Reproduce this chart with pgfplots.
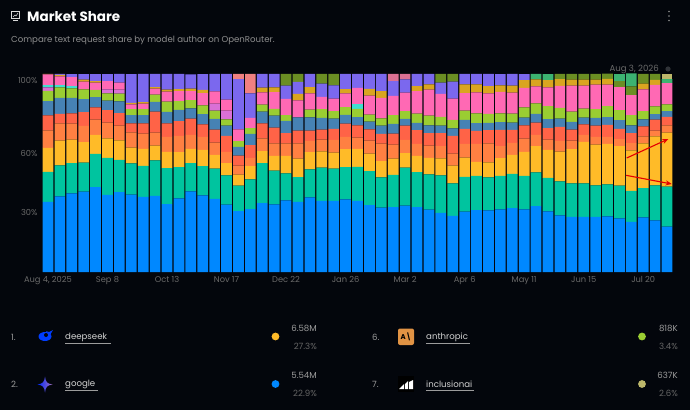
\documentclass[border=0pt]{standalone}
\usepackage{pgfplots}
\usepackage{pgfplotstable}
\usepackage{fontspec}
\pgfplotsset{compat=1.18}
\usetikzlibrary{arrows.meta}
\setmainfont{Poppins}

\definecolor{pagebg}{HTML}{03060C}
\definecolor{cGoogle}{HTML}{0088FF}
\definecolor{cTeal}{HTML}{00C49F}
\definecolor{cDeep}{HTML}{FFBB28}
\definecolor{cOrange}{HTML}{FF8042}
\definecolor{cRed}{HTML}{FF6347}
\definecolor{cSteel}{HTML}{4682B4}
\definecolor{cLime}{HTML}{9ACD32}
\definecolor{cOrchid}{HTML}{DA70D6}
\definecolor{cCyan}{HTML}{40E0D0}
\definecolor{cPink}{HTML}{FF69B4}
\definecolor{cGold}{HTML}{DAA520}
\definecolor{cPurple}{HTML}{7B68EE}
\definecolor{cOlive}{HTML}{6B8E23}
\definecolor{cSea}{HTML}{3CB371}
\definecolor{cMauve}{HTML}{DB7093}
\definecolor{cSalmon}{HTML}{F08080}
\definecolor{cKhaki}{HTML}{BDB76B}
\definecolor{tickgray}{HTML}{6A6A6A}
\definecolor{subgray}{HTML}{8E8E8E}
\definecolor{namegray}{HTML}{D2D2D2}
\definecolor{numgray}{HTML}{9C9C9C}
\definecolor{pctgray}{HTML}{666666}

% weekly share in percent, one row per week
\pgfplotstableread{
i  b    t    y    o    r    s   l   oc  cy  p    g   pu   ol  se  mv  sa   kh
0  35.4 15.2 12.1 8.8  7.6  7.2 5.2 1.7 1.2 5.4  0.3 0    0   0   0   0    0
1  38.2 15.7 12.5 8.6  4.9  8.1 5.2 0   1.2 4.4  0.8 0.5  0   0   0   0    0
2  39.7 15.3 11.8 8.1  5.2  7.9 4.7 0   1.2 4.5  0   1.5  0   0   0   0    0
3  40.6 14.6 10.4 8.2  6.9  6.6 4.9 0   0   4.0  1.0 2.7  0   0   0   0    0
4  42.9 16.8 9.6  7.7  6.2  5.1 3.7 0   0   3.7  0.7 3.5  0   0   0   0    0
5  38.9 18.7 9.9  7.9  6.4  4.7 3.7 2.0 0   4.2  0   3.5  0   0   0   0    0
6  40.4 16.2 9.9  7.4  6.4  5.9 3.9 2.0 0   3.5  0   4.4  0   0   0   0    0
7  39.1 15.8 7.9  7.7  4.5  4.2 3.0 0   0   2.5  0.7 14.5 0   0   0   0    0
8  37.9 15.7 8.6  7.7  5.1  4.2 3.0 0   0   2.9  0.7 14.3 0   0   0   0    0
9  38.4 18.0 7.4  6.6  10.6 4.9 3.7 0   0   3.0  0.8 6.6  0   0   0   0    0
10 34.3 18.2 8.2  7.6  6.7  5.9 5.1 0   0   5.1  1.0 7.9  0   0   0   0    0
11 37.2 15.8 7.6  8.2  7.4  5.7 4.4 0   0   5.1  1.0 7.6  0   0   0   0    0
12 40.7 14.3 7.2  7.1  8.1  5.2 4.2 0   0   4.5  1.3 7.2  0   0   0   0    0
13 38.7 14.8 8.2  6.6  6.2  5.2 4.4 0   0   6.2  1.7 7.9  0   0   0   0    0
14 36.9 15.3 6.9  6.2  6.6  5.4 4.2 3.5 0   6.2  0   8.8  0   0   0   0    0
15 34.0 14.8 6.2  5.7  8.1  5.1 3.2 4.4 0   5.6  0   13.0 0   0   0   0    0
16 30.8 12.8 5.6  4.5  5.1  4.4 2.9 0   0   5.9  0   25.4 0   0   0   2.7  0
17 31.8 15.0 6.7  4.2  6.4  5.6 3.0 0   0   5.2  0   12.3 0   0   0   9.8  0
18 34.8 20.2 6.1  6.4  7.6  5.9 3.5 0   0   6.2  2.4 6.9  0   0   0   0    0
19 34.2 17.0 7.4  6.4  7.9  6.1 3.4 0   0   8.4  2.4 6.9  0   0   0   0    0
20 36.2 13.6 8.8  6.4  5.2  6.1 2.9 0   0   8.2  0   6.7  5.9 0   0   0    0
21 35.4 12.5 9.4  7.7  6.4  6.7 0   0   0   8.6  3.2 6.1  4.0 0   0   0    0
22 37.7 14.1 8.8  5.6  5.2  6.7 3.9 0   0   8.2  3.2 6.6  0   0   0   0    0
23 35.9 16.8 8.2  5.9  5.1  5.9 4.5 0   0   6.1  0   6.7  4.9 0   0   0    0
24 35.9 16.3 8.1  6.4  5.6  5.1 3.9 0   0   6.2  0   6.7  5.9 0   0   0    0
25 36.7 16.3 9.1  6.1  6.7  4.4 4.0 0   0   6.9  2.2 7.6  0   0   0   0    0
26 35.9 17.2 9.1  5.7  6.1  4.2 4.2 0   2.4 8.2  0   7.1  0   0   0   0    0
27 33.8 17.2 8.8  6.6  5.6  4.0 3.5 0   0   9.6  3.4 7.6  0   0   0   0    0
28 32.5 15.3 8.2  8.8  4.9  4.2 3.7 0   0   10.3 3.4 8.8  0   0   0   0    0
29 32.8 16.2 8.2  7.1  5.6  4.9 4.4 0   0   9.8  0   7.4  0   0   3.7 0    0
30 33.5 19.2 7.4  6.6  7.2  3.4 4.0 0   0   9.3  0   6.7  0   0   2.7 0    0
31 32.8 17.7 8.1  6.1  6.9  3.7 4.7 0   0   11.4 2.5 6.1  0   0   0   0    0
32 31.5 17.8 8.4  6.1  6.4  3.9 4.9 0   0   13.1 2.7 5.2  0   0   0   0    0
33 29.8 19.0 8.6  6.2  6.6  3.7 4.5 0   0   11.6 0   5.6  4.4 0   0   0    0
34 28.3 16.5 8.9  6.1  8.9  3.9 4.2 0   0   10.8 0   8.6  3.9 0   0   0    0
35 30.5 17.5 9.8  6.9  7.6  4.5 4.7 0   0   8.8  4.5 5.2  0   0   0   0    0
36 31.3 17.2 7.1  9.1  6.6  3.9 4.9 0   0   10.6 4.0 5.4  0   0   0   0    0
37 31.1 16.7 7.6  9.6  6.6  3.7 4.5 0   0   10.4 3.7 6.1  0   0   0   0    0
38 31.6 17.0 8.9  6.1  8.2  3.9 4.4 0   0   10.9 3.2 5.7  0   0   0   0    0
39 32.3 17.2 9.6  6.1  6.6  3.7 4.5 0   0   10.6 3.5 5.9  0   0   0   0    0
40 31.6 17.0 12.1 6.7  6.7  3.9 5.2 0   0   9.8  3.9 3.0  0   0   0   0    0
41 33.3 17.0 13.3 5.6  6.2  4.4 5.4 0   0   8.6  3.5 0    0   2.7 0   0    0
42 30.6 17.0 14.1 5.1  5.9  4.5 6.6 0   0   9.4  3.7 0    0   3.0 0   0    0
43 28.6 17.2 15.0 5.4  7.1  4.2 5.4 0   0   11.1 3.4 0    2.7 0   0   0    0
44 27.8 17.0 17.3 4.2  5.6  3.9 5.2 0   0   13.1 3.0 0    2.9 0   0   0    0
45 27.8 17.0 20.9 3.5  5.4  3.4 4.5 0   0   11.6 3.0 0    2.9 0   0   0    0
46 27.8 16.0 20.5 3.9  5.7  3.9 4.5 0   0   12.3 2.5 0    2.9 0   0   0    0
47 28.1 16.2 20.4 3.5  6.1  3.9 5.6 0   0   10.8 2.9 0    2.7 0   0   0    0
48 27.1 16.5 20.0 3.5  5.2  4.4 5.1 0   0   11.6 0   0    3.0 3.5 0   0    0
49 25.3 15.7 20.4 3.7  5.1  3.9 5.1 0   0   10.1 0   0    4.4 6.6 0   0    0
50 27.6 14.8 22.6 3.5  5.1  3.5 4.2 0   0   10.9 2.9 0    4.9 0   0   0    0
51 26.1 17.7 24.7 2.9  5.6  2.7 4.0 0   0   10.8 2.5 0    3.0 0   0   0    0
52 22.9 20.2 27.3 3.7  4.2  2.9 3.4 0   0   10.8 0   0    0   2.0 0   0    2.6
}\share

\newcommand{\seg}[2]{\addplot[fill=#2,draw=none] table[x=i,y=#1] {\share};}

\begin{document}
\begin{tikzpicture}[x=1pt,y=1pt]
\fill[pagebg] (0,0) rectangle (690,410);

\begin{axis}[
  at={(42pt,138pt)},
  anchor=south west,
  scale only axis,
  width=631pt,
  height=198pt,
  ybar stacked,
  bar width=10.7pt,
  xmin=-0.5, xmax=52.5,
  ymin=0, ymax=100,
  axis line style={draw=none},
  major tick length=0pt,
  xtick={0,5,10,15,20,25,30,35,40,45,50},
  xticklabels={{Aug 4, 2025},Sep 8,Oct 13,Nov 17,Dec 22,Jan 26,Mar 2,Apr 6,May 11,Jun 15,Jul 20},
  ytick={30,60,96.5},
  yticklabels={30\%,60\%,100\%},
  tick label style={font=\fontsize{8.3}{10}\selectfont,text=tickgray},
  xticklabel style={yshift=-1pt},
  yticklabel style={xshift=-1pt},
]
\seg{b}{cGoogle}
\seg{t}{cTeal}
\seg{y}{cDeep}
\seg{o}{cOrange}
\seg{r}{cRed}
\seg{s}{cSteel}
\seg{l}{cLime}
\seg{oc}{cOrchid}
\seg{cy}{cCyan}
\seg{p}{cPink}
\seg{g}{cGold}
\seg{pu}{cPurple}
\seg{ol}{cOlive}
\seg{se}{cSea}
\seg{mv}{cMauve}
\seg{sa}{cSalmon}
\seg{kh}{cKhaki}
\end{axis}

% header
\draw[white!85!black,line width=0.7pt] (11.5,398.5) rectangle (19.5,391.5);
\draw[white!85!black,line width=0.5pt] (13,393) -- (15,395) -- (16,394) -- (18,397);
\draw[white!85!black,line width=0.7pt] (13,390) -- (18,390);
\node[anchor=west,inner sep=0,text=white,font=\fontsize{13.5}{16}\selectfont\bfseries] at (27,393) {Market Share};
\node[anchor=west,inner sep=0,text=subgray,font=\fontsize{8.6}{11}\selectfont] at (11,370) {Compare text request share by model author on OpenRouter.};
\foreach \yy in {398.5,394,389.5} \fill[subgray] (669,\yy) circle (0.9);

% date marker
\node[anchor=east,inner sep=0,text=tickgray,font=\fontsize{8.6}{11}\selectfont] at (659,341) {Aug 3, 2026};
\fill[white!18!pagebg] (668,341) circle (2.6);

% annotation arrows
\draw[-{Stealth[length=6pt,width=5pt]},red!90!black,line width=1.1pt] (626.7,252) -- (668.3,271);
\draw[-{Stealth[length=6pt,width=5pt]},red!90!black,line width=1.1pt] (626,234.7) -- (671.7,226);

% ranking, left column
\node[anchor=west,inner sep=0,text=numgray,font=\fontsize{8.6}{11}\selectfont] at (11,73) {1.};
\node[anchor=west,inner sep=0,text=numgray,font=\fontsize{8.6}{11}\selectfont] at (11,25.5) {2.};
\fill[blue!55!cGoogle] (45,73.5) ellipse (6.5 and 4.5);
\fill[blue!55!cGoogle] (50,75) -- (53,80) -- (49,78) -- (46,79) -- cycle;
\fill[pagebg] (46,75) circle (2);
\shade[left color=blue!70!cGoogle,right color=cPurple!70!cOrange] (45,33.5) .. controls (45.7,28) and (47,26.3) .. (52.5,25.5) .. controls (47,24.7) and (45.7,23) .. (45,17.5) .. controls (44.3,23) and (43,24.7) .. (37.5,25.5) .. controls (43,26.3) and (44.3,28) .. (45,33.5) -- cycle;
\node[anchor=west,inner sep=0,text=namegray,font=\fontsize{8.6}{11}\selectfont] at (65,73) {deepseek};
\draw[numgray,line width=0.4pt] (65,67.3) -- (111,67.3);
\node[anchor=west,inner sep=0,text=namegray,font=\fontsize{8.6}{11}\selectfont] at (65,25.5) {google};
\draw[numgray,line width=0.4pt] (65,20) -- (98,20);
\fill[cDeep] (275.5,73.5) circle (3.9);
\fill[cGoogle] (275.5,26) circle (3.9);
\node[anchor=east,inner sep=0,text=numgray,font=\fontsize{8.6}{11}\selectfont] at (317,82) {6.58M};
\node[anchor=east,inner sep=0,text=pctgray,font=\fontsize{8.6}{11}\selectfont] at (317,64) {27.3\%};
\node[anchor=east,inner sep=0,text=numgray,font=\fontsize{8.6}{11}\selectfont] at (317,35) {5.54M};
\node[anchor=east,inner sep=0,text=pctgray,font=\fontsize{8.6}{11}\selectfont] at (317,17) {22.9\%};

% ranking, right column
\node[anchor=west,inner sep=0,text=numgray,font=\fontsize{8.6}{11}\selectfont] at (372,73) {6.};
\node[anchor=west,inner sep=0,text=numgray,font=\fontsize{8.6}{11}\selectfont] at (372,25.5) {7.};
\fill[rounded corners=2pt,fill=orange!45!brown!85!white] (398,65) rectangle (414,81.5);
\node[inner sep=0,text=black,font=\fontsize{7}{8}\selectfont\bfseries] at (406,73) {A\textbackslash};
\fill[black] (398,18) rectangle (414,34);
\fill[white] (399,21) -- (404,21) -- (404,26) -- cycle;
\fill[white] (405,21) -- (408,21) -- (408,29) -- (405,26) -- cycle;
\fill[white] (409,21) -- (413,21) -- (413,30) -- (409,28) -- cycle;
\node[anchor=west,inner sep=0,text=namegray,font=\fontsize{8.6}{11}\selectfont] at (426,73) {anthropic};
\draw[numgray,line width=0.4pt] (426,67.3) -- (470,67.3);
\node[anchor=west,inner sep=0,text=namegray,font=\fontsize{8.6}{11}\selectfont] at (426,25.5) {inclusionai};
\draw[numgray,line width=0.4pt] (426,20) -- (474,20);
\fill[cLime] (642,73.5) circle (3.9);
\fill[cKhaki] (642,26) circle (3.9);
\node[anchor=east,inner sep=0,text=numgray,font=\fontsize{8.6}{11}\selectfont] at (678,82) {818K};
\node[anchor=east,inner sep=0,text=pctgray,font=\fontsize{8.6}{11}\selectfont] at (678,64) {3.4\%};
\node[anchor=east,inner sep=0,text=numgray,font=\fontsize{8.6}{11}\selectfont] at (678,35) {637K};
\node[anchor=east,inner sep=0,text=pctgray,font=\fontsize{8.6}{11}\selectfont] at (678,17) {2.6\%};
\end{tikzpicture}
\end{document}
